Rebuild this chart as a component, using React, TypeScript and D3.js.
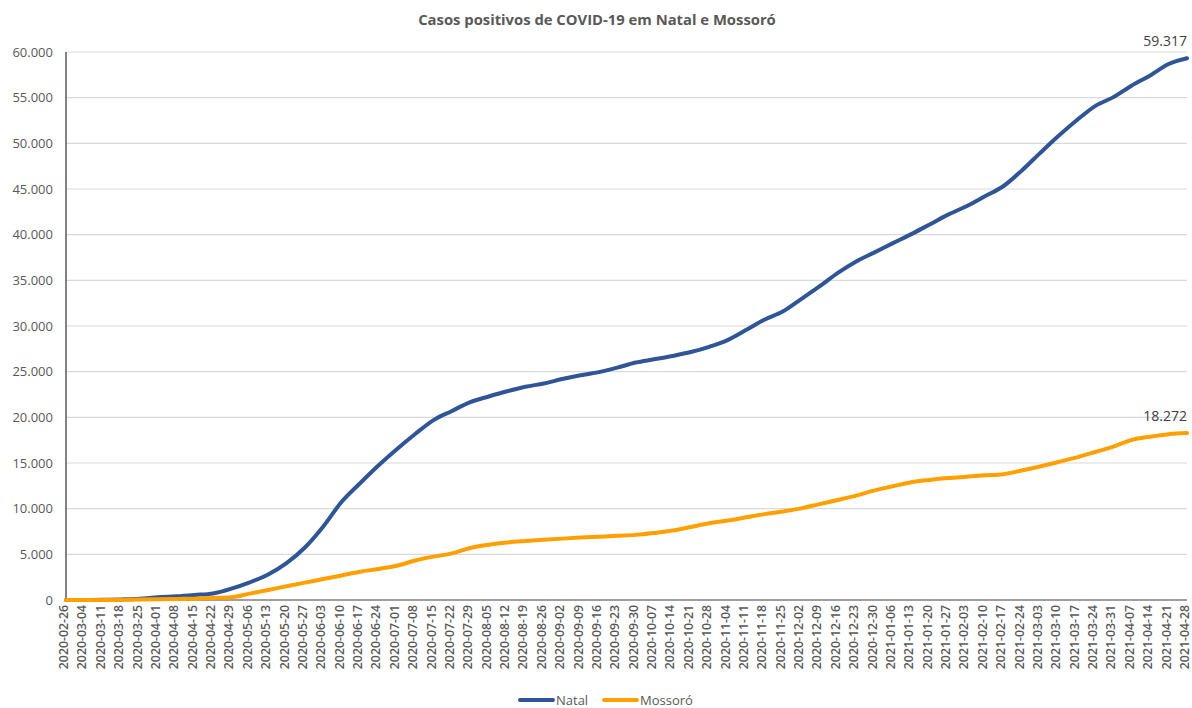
import React from "react";
import * as d3 from "d3";

const W = 1192;
const H = 708;

const startDate = "2020-02-26";
const weekCount = 62;

const natal = [
  0, 5, 20, 60, 130, 290, 400, 550, 720, 1240,
  1930, 2800, 4040, 5750, 8060, 10750, 12780, 14720, 16500, 18170,
  19700, 20700, 21670, 22280, 22850, 23350, 23700, 24190, 24600, 24950,
  25440, 26000, 26350, 26720, 27150, 27720, 28460, 29550, 30690, 31580,
  32940, 34330, 35810, 37070, 38060, 39070, 40060, 41120, 42190, 43120,
  44200, 45300, 47000, 48930, 50800, 52530, 54080, 55060, 56340, 57430,
  58680, 59317,
];

const mossoro = [
  0, 0, 5, 20, 50, 80, 110, 150, 220, 300,
  700, 1090, 1500, 1900, 2290, 2690, 3100, 3400, 3750, 4320,
  4750, 5100, 5700, 6050, 6300, 6460, 6600, 6720, 6830, 6930,
  7030, 7130, 7340, 7600, 8000, 8400, 8700, 9050, 9400, 9700,
  10030, 10500, 10950, 11430, 12000, 12450, 12900, 13150, 13350, 13500,
  13650, 13780, 14180, 14620, 15110, 15620, 16200, 16800, 17530, 17880,
  18150, 18272,
];

const yTicks = [0, 5000, 10000, 15000, 20000, 25000, 30000, 35000, 40000, 45000, 50000, 55000, 60000];

const seriesNames = ["Natal", "Mossoró"];
const seriesColors = ["#2f5597", "#ffa000"];
const endLabels = ["59.317", "18.272"];

const fmtDate = d3.utcFormat("%Y-%m-%d");
const parse = d3.utcParse("%Y-%m-%d");
const dates: Date[] = d3.range(weekCount).map((i) => d3.utcDay.offset(parse(startDate) as Date, i * 7));
const dateLabels = dates.map(fmtDate);

const fmtNum = (v: number) => d3.format(",")(v).replace(/,/g, ".");

export default function App() {
  const left = 66, right = 1187, top = 52, bottom = 600;
  const x = d3.scalePoint<string>().domain(dateLabels).range([left, right]);
  const y = d3.scaleLinear().domain([0, 60000]).range([bottom, top]);
  const line = d3
    .line<number>()
    .x((_, i) => x(dateLabels[i]) as number)
    .y((d) => y(d))
    .curve(d3.curveMonotoneX);
  const data = [natal, mossoro];
  const font = "'Open Sans', 'DejaVu Sans', sans-serif";
  const textColor = "#595959";

  return (
    <svg width={W} height={H} style={{ position: "absolute", left: 0, top: 0, background: "#fff" }} fontFamily={font}>
      <text x={597} y={25} textAnchor="middle" fontSize={14.8} fontWeight="bold" fill={textColor}>
        Casos positivos de COVID-19 em Natal e Mossoró
      </text>
      {yTicks.map((t) => (
        <g key={t}>
          {t > 0 && <line x1={left} x2={right} y1={y(t)} y2={y(t)} stroke="#d9d9d9" strokeWidth={1.2} />}
          <text x={53} y={y(t)} dy="0.35em" textAnchor="end" fontSize={13} fill={textColor}>
            {fmtNum(t)}
          </text>
        </g>
      ))}
      <line x1={left} x2={right} y1={bottom} y2={bottom} stroke="#7f7f7f" strokeWidth={1.3} />
      <line x1={left} x2={left} y1={top} y2={bottom} stroke="#404040" strokeWidth={1.3} />
      {dateLabels.map((d) => (
        <text
          key={d}
          transform={`translate(${(x(d) as number) + 2},${605}) rotate(-90)`}
          textAnchor="end"
          fontSize={12.3}
          fill={textColor}
          fontWeight={600}
        >
          {d}
        </text>
      ))}
      {data.map((s, k) => (
        <path key={k} d={line(s) as string} fill="none" stroke={seriesColors[k]} strokeWidth={4} strokeLinejoin="round" strokeLinecap="round" />
      ))}
      {data.map((s, k) => (
        <text key={k} x={right} y={y(s[s.length - 1]) - 12} textAnchor="end" fontSize={14} fill="#404040">
          {endLabels[k]}
        </text>
      ))}
      {seriesNames.map((n, k) => {
        const lx = k === 0 ? 520 : 604;
        return (
          <g key={n}>
            <line x1={lx} x2={lx + 33} y1={700} y2={700} stroke={seriesColors[k]} strokeWidth={4} strokeLinecap="round" />
            <text x={lx + 36} y={700} dy="0.35em" fontSize={13} fill={textColor}>
              {n}
            </text>
          </g>
        );
      })}
    </svg>
  );
}
